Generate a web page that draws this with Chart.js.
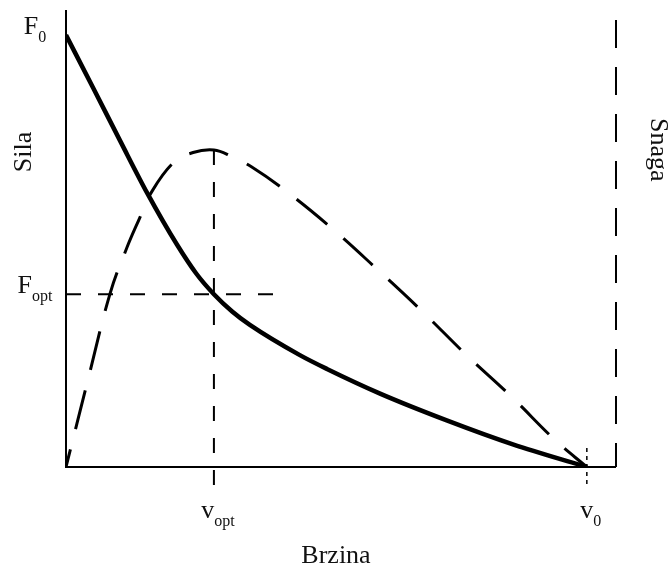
<!DOCTYPE html>
<html>
<head>
<meta charset="utf-8">
<script src="https://cdn.jsdelivr.net/npm/chart.js@4"></script>
<style>
    html, body { margin: 0; padding: 0; background: #fff; }
    #wrap { width: 668px; height: 565px; position: relative; }
</style>
</head>
<body>
<div id="wrap"><canvas id="hillChart"></canvas></div>
<script>
// Force-velocity (Sila) and power (Snaga) curves
const forceVelocity = [0, 0.052, 0.104, 0.156, 0.213, 0.250, 0.284, 0.319, 0.353, 0.449, 0.501, 0.603, 0.731, 0.858, 1.0];
const force = [1.0, 0.878, 0.755, 0.634, 0.515, 0.448, 0.40, 0.360, 0.329, 0.259, 0.227, 0.170, 0.108, 0.0525, 0];

const powerVelocity = [0, 0.042, 0.085, 0.117, 0.142, 0.161, 0.205, 0.244, 0.284, 0.318, 0.356, 0.420, 0.510, 0.599, 0.685, 0.769, 0.855, 0.939, 1.0];
const power = [0, 0.201, 0.403, 0.508, 0.578, 0.630, 0.703, 0.728, 0.734, 0.719, 0.695, 0.641, 0.553, 0.456, 0.359, 0.259, 0.163, 0.0625, 0];

// key values
const vOpt = 0.284, v0 = 1.0;
const fOpt = 0.40, f0 = 1.0;
const pMax = 0.734;

// tick labels: [main, subscript]
const xTickValues = [vOpt, v0];
const xTickLabels = [['v', 'opt'], ['v', '0']];
const yTickValues = [f0, fOpt];
const yTickLabels = [['F', '0'], ['F', 'opt']];

const xMax = 1.056, yMax = 1.058;
const SERIF = "'Liberation Serif', 'DejaVu Serif', serif";

const pts = (xs, ys) => xs.map((x, i) => ({ x: x, y: ys[i] }));

function drawSub(ctx, main, sub, cx, base) {
    ctx.font = '26px ' + SERIF;
    const w1 = ctx.measureText(main).width;
    ctx.font = '16px ' + SERIF;
    const w2 = ctx.measureText(sub).width;
    const x0 = cx - (w1 + w2) / 2;
    ctx.textAlign = 'left';
    ctx.textBaseline = 'alphabetic';
    ctx.font = '26px ' + SERIF;
    ctx.fillText(main, x0, base);
    ctx.font = '16px ' + SERIF;
    ctx.fillText(sub, x0 + w1, base + 8);
}

const decorPlugin = {
    id: 'decor',
    beforeDatasetsDraw(chart) {
        const { ctx, chartArea } = chart;
        ctx.save();
        ctx.strokeStyle = '#000';
        ctx.lineWidth = 2;
        ctx.beginPath();
        ctx.moveTo(chartArea.left, chartArea.top);
        ctx.lineTo(chartArea.left, chartArea.bottom);
        ctx.lineTo(chartArea.right, chartArea.bottom);
        ctx.stroke();
        ctx.restore();
    },
    afterDraw(chart) {
        const { ctx } = chart;
        const xs = chart.scales.x, ys = chart.scales.y;
        ctx.save();
        ctx.fillStyle = '#111';

        yTickValues.forEach((v, i) => {
            drawSub(ctx, yTickLabels[i][0], yTickLabels[i][1], 35, ys.getPixelForValue(v) - 1.5);
        });
        xTickValues.forEach((v, i) => {
            drawSub(ctx, xTickLabels[i][0], xTickLabels[i][1], xs.getPixelForValue(v) + 4, 518);
        });

        ctx.font = '26px ' + SERIF;
        ctx.textAlign = 'center';
        ctx.textBaseline = 'alphabetic';
        ctx.fillText('Brzina', 336, 563);

        ctx.save();
        ctx.translate(31, 152);
        ctx.rotate(-Math.PI / 2);
        ctx.fillText('Sila', 0, 0);
        ctx.restore();

        ctx.save();
        ctx.translate(651, 118);
        ctx.rotate(Math.PI / 2);
        ctx.textAlign = 'left';
        ctx.fillText('Snaga', 0, 0);
        ctx.restore();

        ctx.restore();
    }
};

const ctx = document.getElementById('hillChart').getContext('2d');
new Chart(ctx, {
    type: 'scatter',
    data: {
        datasets: [
            {
                label: 'Sila',
                data: pts(forceVelocity, force),
                showLine: true,
                borderColor: '#000',
                borderWidth: 4.5,
                cubicInterpolationMode: 'monotone',
                pointRadius: 0
            },
            {
                label: 'Snaga',
                data: pts(powerVelocity, power),
                showLine: true,
                borderColor: '#000',
                borderWidth: 3,
                borderDash: [40, 21],
                borderDashOffset: 22,
                tension: 0.4,
                pointRadius: 0
            },
            {
                label: 'Fopt',
                data: [{ x: 0, y: fOpt }, { x: 0.401, y: fOpt }],
                showLine: true,
                borderColor: '#000',
                borderWidth: 2,
                borderDash: [15, 17],
                pointRadius: 0
            },
            {
                label: 'vopt',
                data: [{ x: vOpt, y: pMax }, { x: vOpt, y: -0.042 }],
                showLine: true,
                borderColor: '#000',
                borderWidth: 2,
                borderDash: [15, 17],
                pointRadius: 0,
                clip: false
            },
            {
                label: 'v0',
                data: [{ x: v0, y: 0.044 }, { x: v0, y: -0.042 }],
                showLine: true,
                borderColor: '#000',
                borderWidth: 1.5,
                borderDash: [4, 4],
                pointRadius: 0,
                clip: false
            },
            {
                label: 'Snaga os',
                data: [{ x: xMax, y: 1.035 }, { x: xMax, y: 0 }],
                showLine: true,
                borderColor: '#000',
                borderWidth: 2,
                borderDash: [28, 19],
                pointRadius: 0,
                clip: false
            }
        ]
    },
    options: {
        responsive: true,
        maintainAspectRatio: false,
        animation: false,
        events: [],
        layout: { padding: { left: 66, top: 10, right: 52, bottom: 98 } },
        plugins: { legend: { display: false }, tooltip: { enabled: false } },
        scales: {
            x: { type: 'linear', min: 0, max: xMax, display: false },
            y: { type: 'linear', min: 0, max: yMax, display: false }
        }
    },
    plugins: [decorPlugin]
});
</script>
</body>
</html>
